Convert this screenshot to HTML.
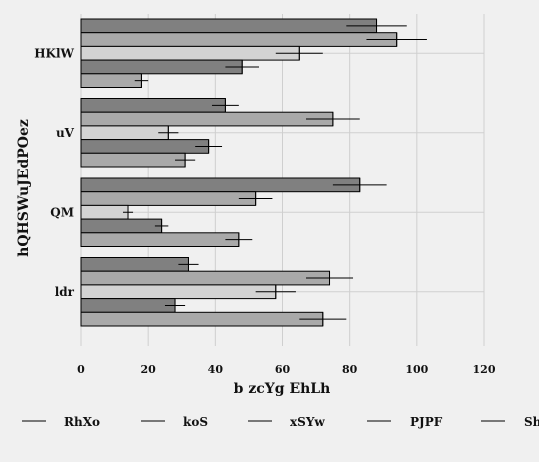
<!DOCTYPE html>
<html><head><meta charset="utf-8"><style>
html,body{margin:0;padding:0;background:#f0f0f0;}
svg{display:block;font-family:"DejaVu Serif","Liberation Serif",serif;font-weight:bold;}
</style></head><body>
<svg id="chart" width="539" height="462"></svg>
<script>
const categories=["HKlW","uV","QM","ldr"];
const seriesNames=["RhXo","koS","xSYw","PJPF","Sh"];
const s1=[88,43,83,32];
const s2=[94,75,52,74];
const s3=[65,26,14,58];
const s4=[48,38,24,28];
const s5=[18,31,47,72];
const e1=[9,4,8,3];
const e2=[9,8,5,7];
const e3=[7,3,1.5,6];
const e4=[5,4,2,3];
const e5=[2,3,4,7];
const xTicks=[0,20,40,60,80,100,120];
const series=[s1,s2,s3,s4,s5];
const errs=[e1,e2,e3,e4,e5];
const colors=["#808080","#a9a9a9","#d3d3d3","#808080","#a9a9a9"];
const NS="http://www.w3.org/2000/svg";
const svg=document.getElementById('chart');
const x0=81,x1=484,plotTop=13.5,bandH=79.5,barH=13.7,pad=5.5;
const xs=v=>x0+(v/120)*(x1-x0);
function mk(t,a,p){const e=document.createElementNS(NS,t);for(const k in a)e.setAttribute(k,a[k]);(p||svg).appendChild(e);return e;}
xTicks.forEach(t=>{
 const g=mk('line',{x1:xs(t),x2:xs(t),y1:14,y2:346,stroke:'#cfcfcf','stroke-width':1});
 
 
 const l=mk('text',{x:xs(t),y:373,'text-anchor':'middle','font-size':11,fill:'#111'});
 l.textContent=t;
 
 
});
categories.forEach((c,i)=>{
 const cy=plotTop+bandH*i+pad+barH*2.5;
 const g=mk('line',{x1:x0,x2:x1,y1:cy,y2:cy,stroke:'#cfcfcf','stroke-width':1});
 
 
 const l=mk('text',{x:74,y:cy+4,'text-anchor':'end','font-size':12,fill:'#111'});
 l.textContent=c;
 
 
});
categories.forEach((c,i)=>{
 series.forEach((s,j)=>{
  const y=plotTop+bandH*i+pad+barH*j;
  const r=mk('rect',{x:x0,y:y,width:xs(s[i])-x0,height:barH,fill:colors[j],stroke:'#000','stroke-width':1});
  
  
  const cy=y+barH/2,e=errs[j][i];
  const el=mk('line',{x1:xs(s[i]-e),x2:xs(s[i]+e),y1:cy,y2:cy,stroke:'#000','stroke-width':1});
  
  
  const ec=mk('line',{x1:xs(s[i]),x2:xs(s[i]),y1:cy-barH/2,y2:cy+barH/2,stroke:'#000','stroke-width':1});
  
  
 });
});
const xt=mk('text',{x:282,y:393,'text-anchor':'middle','font-size':14,fill:'#111'});
xt.textContent="b zcYg EhLh";


const yt=mk('text',{x:28,y:188,'text-anchor':'middle','font-size':14,fill:'#111',transform:'rotate(-90 28 188)'});
yt.textContent="hQHSWuJEdPOez";


const lx=[22,141,248,367,481],tx=[64,183,290,410,524];
seriesNames.forEach((n,j)=>{
 const g=mk('g',{});
 
 
 mk('line',{x1:lx[j],x2:lx[j]+24,y1:421,y2:421,stroke:'#000','stroke-width':1},g);
 const t=mk('text',{x:tx[j],y:426,'font-size':12,fill:'#111'},g);
 t.textContent=n;
});
</script>
</body></html>
